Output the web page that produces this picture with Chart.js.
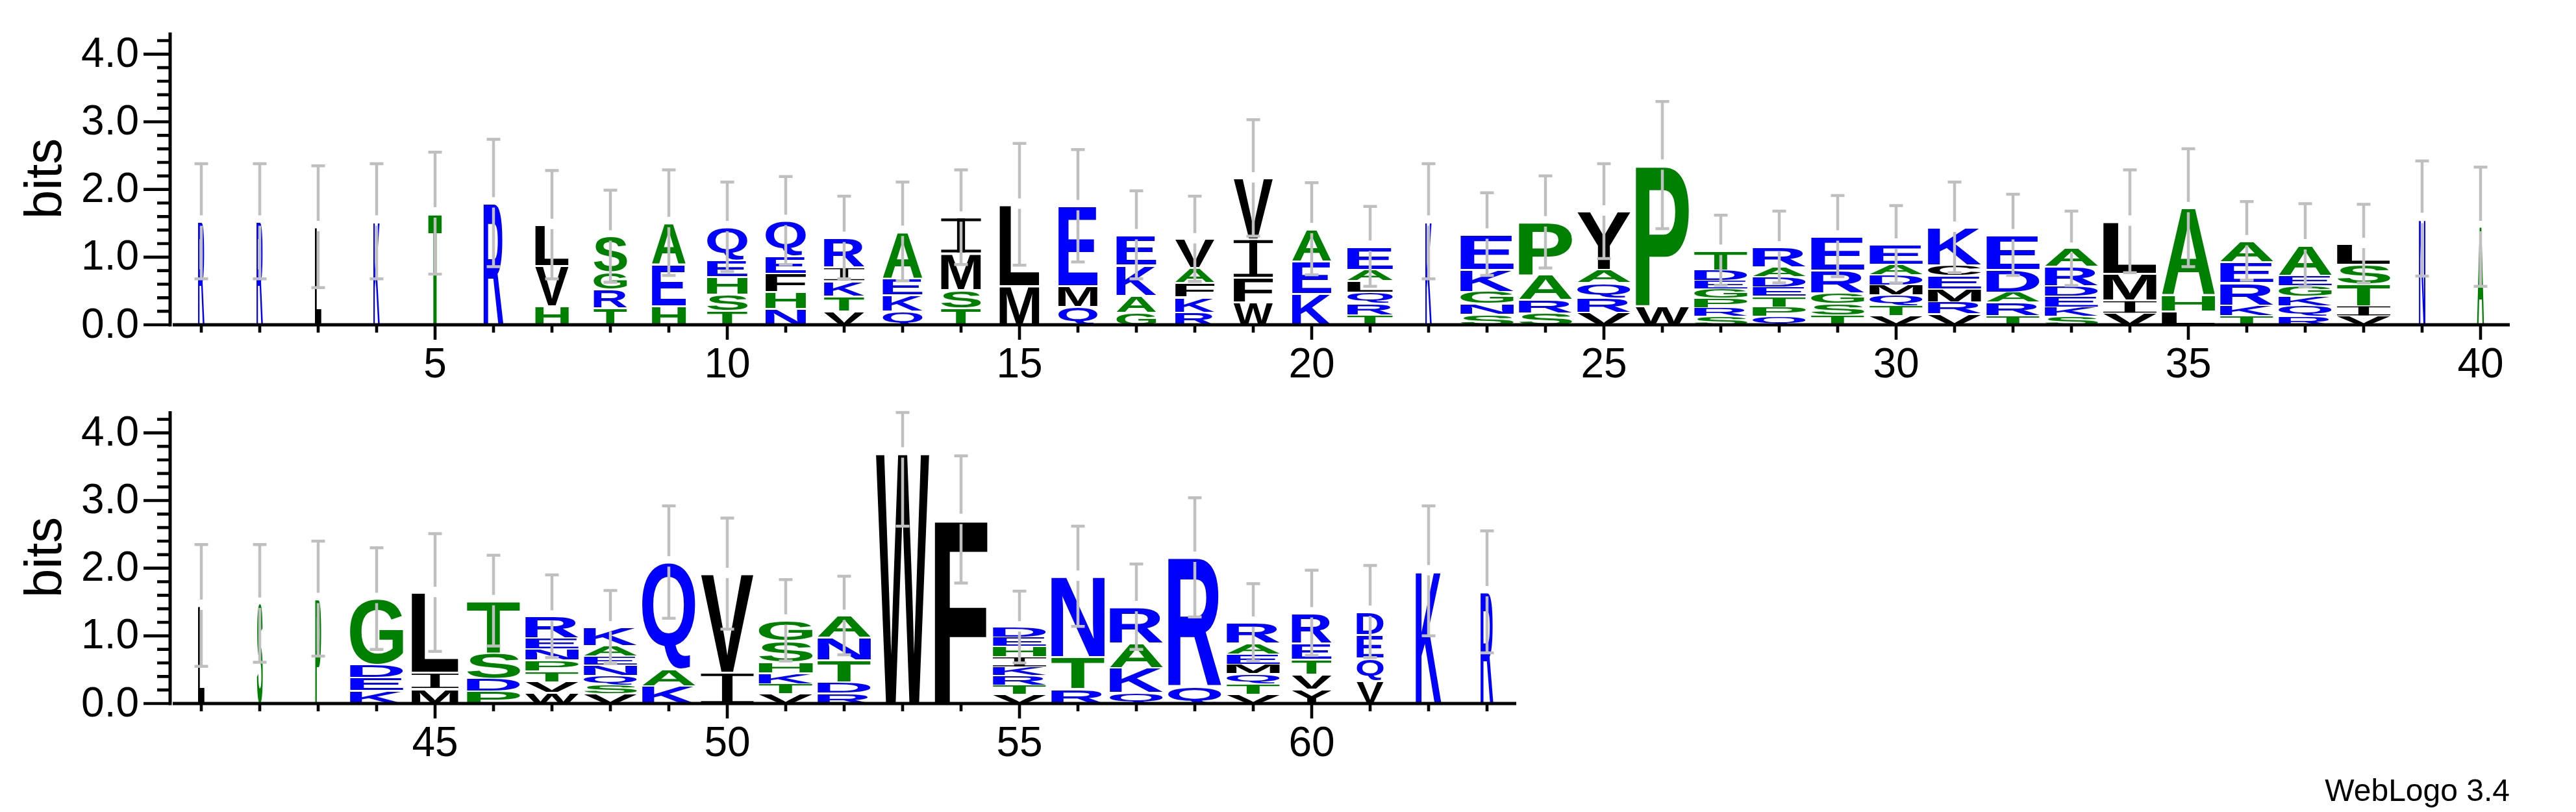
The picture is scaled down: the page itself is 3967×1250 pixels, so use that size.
<!DOCTYPE html>
<html><head><meta charset="utf-8">
<script src="https://cdn.jsdelivr.net/npm/chart.js@4.4.1/dist/chart.umd.min.js"></script>
<style>
html,body{margin:0;padding:0;background:#fff;width:3967px;height:1250px;overflow:hidden}
canvas{position:absolute;left:0}
#c1{top:0}
#c2{top:620px}
</style></head><body>
<canvas id="c1" width="3967" height="620"></canvas>
<canvas id="c2" width="3967" height="630"></canvas>
<script>
const topPositions = ['1','2','3','4','5','6','7','8','9','10','11','12','13','14','15','16','17','18','19','20',
  '21','22','23','24','25','26','27','28','29','30','31','32','33','34','35','36','37','38','39','40'];
// letters of each stack, bottom -> top
const topLetters = ['R','R','L','K','T','R','HVL','TRGS','HEA','TSHEQ','NHFEQ','VTKIR','QKEA','TSMI','ML','QME',
  'GAKE','RKFAV','WFIV','KEA','TRQLAE','K','SNGKE','SRAP','VRQAY','WP','SRPGEDT','QPTEDAR','TSGRE','VTQMDAE',
  'VRMECK','TRADE','SKEDRA','VIML','LHA','TKREA','RQKGEA','VITSL','N','A'];
// cumulative height (bits) at the top of each letter
const topTops = [[1.54],[1.54],[1.46],[1.54],[1.66],[1.81],
  [0.29,0.88,1.49],[0.26,0.53,0.79,1.32],[0.29,0.91,1.52],[0.22,0.46,0.72,0.97,1.46],[0.25,0.50,0.77,1.03,1.55],
  [0.21,0.43,0.66,0.86,1.30],[0.21,0.45,0.70,1.39],[0.26,0.53,1.07,1.60],[0.59,1.79],[0.28,0.59,1.77],
  [0.19,0.44,0.89,1.34],[0.19,0.42,0.63,0.85,1.28],[0.35,0.71,1.28,2.18],[0.47,0.95,1.43],
  [0.15,0.32,0.49,0.66,0.83,1.17],[1.54],[0.16,0.32,0.50,0.83,1.35],[0.18,0.38,0.75,1.53],
  [0.19,0.41,0.63,0.83,1.69],[0.29,2.37],[0.13,0.26,0.40,0.54,0.66,0.82,1.11],[0.13,0.27,0.43,0.57,0.72,0.86,1.16],
  [0.15,0.32,0.48,0.82,1.32],[0.14,0.29,0.45,0.60,0.75,0.90,1.20],[0.17,0.35,0.54,0.74,0.89,1.45],
  [0.14,0.34,0.49,0.83,1.34],[0.13,0.27,0.43,0.58,0.87,1.14],[0.18,0.37,0.77,1.54],[0.21,0.45,1.74],
  [0.14,0.30,0.63,0.94,1.25],[0.13,0.29,0.43,0.59,0.74,1.19],[0.14,0.29,0.61,0.90,1.21],[1.58],[1.46]];
// relative stack width (occupancy)
const topWidths = [0.11,0.11,0.11,0.11,0.23,0.34,0.57,0.57,0.58,0.69,0.69,0.69,0.68,0.68,0.68,0.67,0.68,0.67,0.67,0.67,
  0.78,0.11,0.91,0.91,0.91,0.91,0.91,0.91,0.91,0.91,0.91,0.91,0.91,0.91,0.91,0.91,0.91,0.91,0.11,0.12];
// error bar half-length (bits)
const topErrors = [0.86,0.86,0.91,0.86,0.91,0.95,0.81,0.69,0.79,0.67,0.66,0.62,0.74,0.71,0.91,0.84,0.66,0.64,0.87,0.69,
  0.60,0.86,0.62,0.69,0.71,0.95,0.53,0.54,0.61,0.58,0.68,0.61,0.56,0.77,0.88,0.59,0.62,0.59,0.86,0.89];

const bottomPositions = ['41','42','43','44','45','46','47','48','49','50','51','52','53','54','55','56','57','58','59','60','61','62','63'];
const bottomLetters = ['L','S','P','KEDG','MIL','PDST','WVTPNER','VSQNEAK','KAQ','IV','VTKHSG','RDTNA','W','F',
  'VTRKIHED','RTN','QKAR','QR','VTQMEAR','YVTER','VQED','K','R'];
const bottomTops = [[1.46],[1.49],[1.56],[0.20,0.39,0.58,1.56],[0.23,0.47,1.65],[0.19,0.38,0.76,1.53],
  [0.17,0.33,0.49,0.65,0.82,0.98,1.30],[0.15,0.28,0.42,0.58,0.71,0.86,1.14],[0.27,0.52,2.10],[0.47,1.93],
  [0.15,0.30,0.46,0.62,0.94,1.24],[0.16,0.33,0.65,0.99,1.31],[3.71],[2.73],
  [0.14,0.28,0.42,0.55,0.70,0.85,0.99,1.14],[0.23,0.70,1.89],[0.17,0.54,0.90,1.44],[0.26,2.17],
  [0.14,0.30,0.45,0.59,0.74,0.90,1.21],[0.22,0.44,0.66,0.90,1.35],[0.35,0.68,1.03,1.37],[1.97],[1.66]];
const bottomWidths = [0.11,0.10,0.10,0.91,0.80,0.91,0.91,0.91,0.91,0.90,0.92,0.91,0.91,0.90,0.91,0.91,0.91,0.91,0.91,
  0.68,0.46,0.44,0.22];
const bottomErrors = [0.91,0.88,0.86,0.76,0.88,0.68,0.62,0.55,0.84,0.83,0.61,0.59,1.09,0.95,0.54,0.75,0.64,0.89,0.58,
  0.64,0.69,0.97,0.91];

const yTickLabels = ['0.0','1.0','2.0','3.0','4.0'];
const yMax = 4.32;
const yLabel = 'bits';
const creditText = 'WebLogo 3.4';

// ---------- styling ----------
const COLOR = {};
'RKDENQ'.split('').forEach(c => COLOR[c] = '#0000ff');
'SGHTAP'.split('').forEach(c => COLOR[c] = '#008000');
'YVMCLFIW'.split('').forEach(c => COLOR[c] = '#000000');
const FONT = '"Liberation Sans", Arial, Helvetica, sans-serif';

function drawGlyph(ctx, ch, x, y, w, h, color) {
  if (w <= 0 || h <= 0.5) return;
  ctx.save();
  ctx.fillStyle = color;
  if (ch === 'I') {
    const bar = Math.max(1.5, h * 0.08);
    const sw = Math.max(2, w * 0.2);
    ctx.fillRect(x, y, w, bar);
    ctx.fillRect(x, y + h - bar, w, bar);
    ctx.fillRect(x + w / 2 - sw / 2, y, sw, h);
  } else {
    ctx.font = 'bold 200px ' + FONT;
    ctx.textAlign = 'left';
    ctx.textBaseline = 'alphabetic';
    const m = ctx.measureText(ch);
    const gw = m.actualBoundingBoxLeft + m.actualBoundingBoxRight;
    const gh = m.actualBoundingBoxAscent + m.actualBoundingBoxDescent;
    ctx.translate(x, y);
    ctx.scale(w / gw, h / gh);
    ctx.fillText(ch, m.actualBoundingBoxLeft, m.actualBoundingBoxAscent);
  }
  ctx.restore();
}

function buildDatasets(letters, tops) {
  const maxLayers = Math.max(...letters.map(s => s.length));
  const ds = [];
  for (let k = 0; k < maxLayers; k++) {
    ds.push({
      data: tops.map(t => k < t.length ? [k === 0 ? 0 : t[k - 1], t[k]] : null),
      backgroundColor: 'rgba(0,0,0,0)',
      borderWidth: 0,
      grouped: false,
      barPercentage: 1,
      categoryPercentage: 1
    });
  }
  return ds;
}

function logoPlugin(cfg) {
  return {
    id: 'logo' + cfg.id,
    afterDatasetsDraw(chart) {
      const ctx = chart.ctx;
      const ys = chart.scales.y;
      const ca = chart.chartArea;
      const step = (ca.right - ca.left) / cfg.labels.length;
      chart.data.datasets.forEach((ds, k) => {
        const meta = chart.getDatasetMeta(k);
        meta.data.forEach((el, i) => {
          if (!ds.data[i]) return;
          const p = el.getProps(['x', 'y', 'base'], true);
          const ch = cfg.letters[i][k];
          const w = step * cfg.widths[i];
          const top = Math.min(p.y, p.base), bot = Math.max(p.y, p.base);
          const h = bot - top;
          const gap = Math.min(3, h * 0.12);
          drawGlyph(ctx, ch, p.x - w / 2, top + gap, w, h - gap, COLOR[ch]);
        });
      });
      // error bars
      const meta0 = chart.getDatasetMeta(0);
      ctx.save();
      ctx.strokeStyle = '#bfbfbf';
      ctx.lineWidth = 4.5;
      cfg.tops.forEach((t, i) => {
        const c = t[t.length - 1];
        const e = cfg.errors[i];
        const cx = meta0.data[i].getProps(['x'], true).x;
        const yc = ys.getPixelForValue(c);
        const yu = ys.getPixelForValue(Math.min(c + e, yMax));
        const yl = ys.getPixelForValue(Math.max(c - e, 0));
        ctx.beginPath();
        ctx.moveTo(cx, yu); ctx.lineTo(cx, yc - 8);
        ctx.moveTo(cx, yc + 8); ctx.lineTo(cx, yl);
        ctx.moveTo(cx - 10.5, yu + 2); ctx.lineTo(cx + 10.5, yu + 2);
        ctx.moveTo(cx - 10.5, yl); ctx.lineTo(cx + 10.5, yl);
        ctx.stroke();
      });
      ctx.restore();
    },
    afterDraw(chart) {
      const ctx = chart.ctx;
      const ys = chart.scales.y;
      const ca = chart.chartArea;
      const step = (ca.right - ca.left) / cfg.labels.length;
      const y0 = ys.getPixelForValue(0);
      const ax = ca.left - 3;
      ctx.save();
      ctx.strokeStyle = '#000';
      ctx.fillStyle = '#000';
      // y axis
      ctx.lineWidth = 5;
      ctx.beginPath();
      ctx.moveTo(ax, ys.getPixelForValue(yMax));
      ctx.lineTo(ax, y0 + 2.5);
      ctx.stroke();
      ctx.lineWidth = 4.6;
      ctx.beginPath();
      for (let j = 0; j <= 21; j++) {
        const v = j * 0.2;
        const py = ys.getPixelForValue(v);
        const len = (j % 5 === 0) ? 41 : 20;
        ctx.moveTo(ax - len, py); ctx.lineTo(ax, py);
      }
      ctx.stroke();
      ctx.font = '64px ' + FONT;
      ctx.textAlign = 'right';
      ctx.textBaseline = 'middle';
      yTickLabels.forEach(l => ctx.fillText(l, 214, ys.getPixelForValue(parseFloat(l)) + 2));
      // y title
      ctx.save();
      ctx.translate(72, ys.getPixelForValue(yMax / 2));
      ctx.rotate(-Math.PI / 2);
      ctx.font = '80px ' + FONT;
      ctx.textAlign = 'center';
      ctx.textBaseline = 'middle';
      ctx.fillText(yLabel, 0, 0);
      ctx.restore();
      // x axis
      ctx.lineWidth = 5;
      ctx.beginPath();
      ctx.moveTo(ca.left + 1, y0);
      ctx.lineTo(ca.right, y0);
      ctx.stroke();
      ctx.lineWidth = 4.6;
      ctx.beginPath();
      cfg.labels.forEach((lab, i) => {
        const cx = ca.left + step * (i + 0.5);
        const len = (parseInt(lab) % 5 === 0) ? 21 : 10;
        ctx.moveTo(cx, y0 + 2); ctx.lineTo(cx, y0 + 2 + len);
      });
      ctx.stroke();
      ctx.font = '64px ' + FONT;
      ctx.textAlign = 'center';
      ctx.textBaseline = 'alphabetic';
      cfg.labels.forEach((lab, i) => {
        if (parseInt(lab) % 5 !== 0) return;
        const cx = ca.left + step * (i + 0.5);
        ctx.fillText(lab, cx, y0 + 81);
      });
      if (cfg.credit) {
        ctx.font = '48px ' + FONT;
        ctx.textAlign = 'right';
        ctx.fillText(creditText, 3865, 1233 - 620);
      }
      ctx.restore();
    }
  };
}

function makeChart(id, labels, letters, tops, widths, errors, pad, credit) {
  const cfg = { id, labels, letters, tops, widths, errors, credit };
  return new Chart(document.getElementById(id), {
    type: 'bar',
    data: { labels, datasets: buildDatasets(letters, tops) },
    options: {
      responsive: false,
      devicePixelRatio: 1,
      animation: false,
      layout: { padding: pad },
      plugins: { legend: { display: false }, tooltip: { enabled: false }, title: { display: false } },
      scales: {
        x: { type: 'category', display: false, offset: true },
        y: { min: 0, max: yMax, display: false }
      }
    },
    plugins: [logoPlugin(cfg)]
  });
}

makeChart('c1', topPositions, topLetters, topTops, topWidths, topErrors,
  { left: 265, right: 3967 - 3865, top: 50, bottom: 620 - 500 }, false);
makeChart('c2', bottomPositions, bottomLetters, bottomTops, bottomWidths, bottomErrors,
  { left: 265, right: 3967 - 2335, top: 13, bottom: 630 - 463 }, true);
</script>
</body></html>
